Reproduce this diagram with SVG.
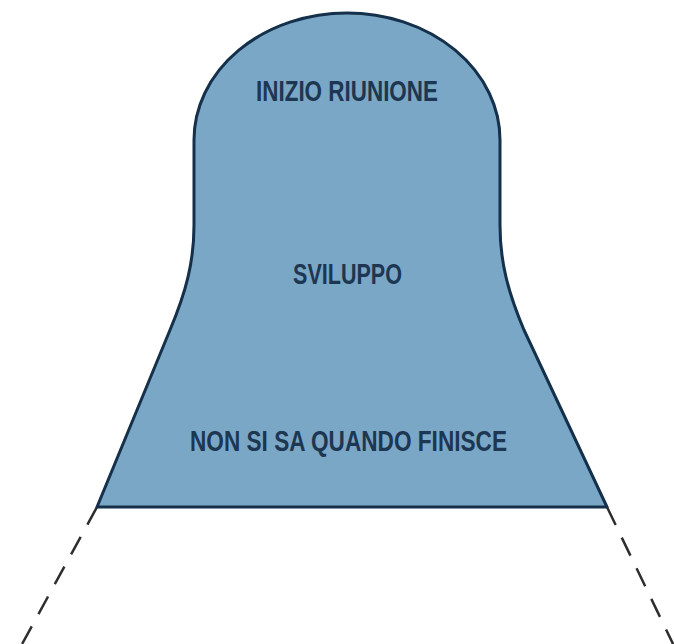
<svg xmlns="http://www.w3.org/2000/svg" width="674" height="644" viewBox="0 0 674 644">
<style>
.bell{fill:#7ba7c7;stroke:#15304a;stroke-width:3;stroke-linejoin:round}
.lbl{font-family:"Liberation Sans",Arial,sans-serif;font-size:29px;font-weight:bold;fill:#1d3651;text-anchor:start}
.dash{stroke:#2e2e2e;stroke-width:2.5;stroke-dasharray:20 14;fill:none}
</style>
<rect width="674" height="644" fill="#ffffff"/>
<g id="connectors">
<line class="dash" x1="97" y1="507" x2="21" y2="646"/>
<line class="dash" x1="607" y1="507" x2="674" y2="646"/>
</g>
<g id="bell">
<path class="bell" d="M 97 507 L 170 330 C 186 292, 194 262, 194 225 L 194 140 A 153 127 0 0 1 500 140 L 500 225 C 500 262, 508 292, 524 330 L 607 507 Z"/>
</g>
<g id="inizio">
<text class="lbl" x="256" y="101" textLength="182" lengthAdjust="spacingAndGlyphs">INIZIO RIUNIONE</text>
</g>
<g id="sviluppo">
<text class="lbl" x="293" y="284" textLength="109" lengthAdjust="spacingAndGlyphs">SVILUPPO</text>
</g>
<g id="fine">
<text class="lbl" x="190" y="451" textLength="317" lengthAdjust="spacingAndGlyphs">NON SI SA QUANDO FINISCE</text>
</g>
</svg>
